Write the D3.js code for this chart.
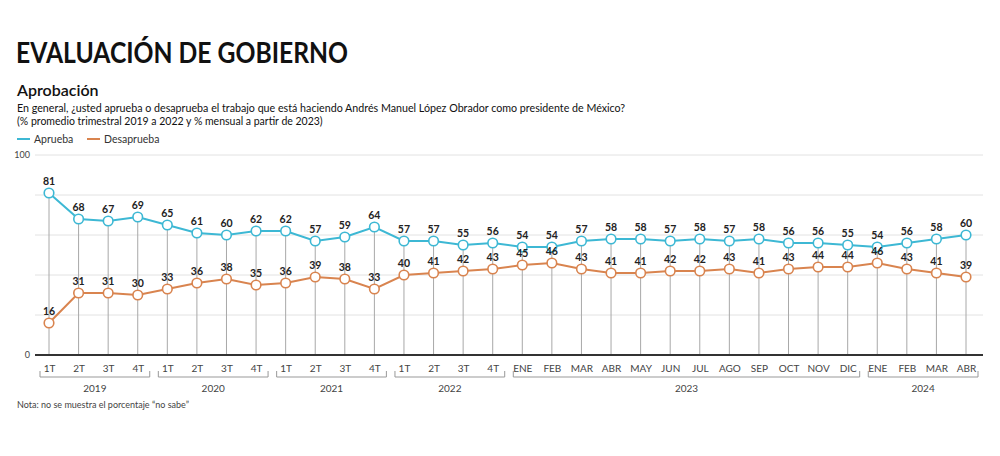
<!DOCTYPE html>
<html><head><meta charset="utf-8">
<script src="https://cdn.jsdelivr.net/npm/d3@7"></script>
<style>
body{margin:0;background:#fff;}
svg{display:block;font-family:Lato, "Open Sans", sans-serif;}
</style></head>
<body>
<svg id="c" width="1000" height="456"></svg>
<script>
const periods = ["1T","2T","3T","4T","1T","2T","3T","4T","1T","2T","3T","4T","1T","2T","3T","4T",
  "ENE","FEB","MAR","ABR","MAY","JUN","JUL","AGO","SEP","OCT","NOV","DIC","ENE","FEB","MAR","ABR"];
const yearOf = ["2019","2019","2019","2019","2020","2020","2020","2020","2021","2021","2021","2021","2022","2022","2022","2022",
  "2023","2023","2023","2023","2023","2023","2023","2023","2023","2023","2023","2023","2024","2024","2024","2024"];
const aprueba = [81,68,67,69,65,61,60,62,62,57,59,64,57,57,55,56,54,54,57,58,58,57,58,57,58,56,56,55,54,56,58,60];
const desaprueba = [16,31,31,30,33,36,38,35,36,39,38,33,40,41,42,43,45,46,43,41,41,42,42,43,41,43,44,44,46,43,41,39];
const yTicks = [0,100];
const gridTicks = [20,40,60,80,100];

const svg = d3.select("#c");
const blue = "#3db8d4", orange = "#d9844f";
const x = d3.scalePoint().domain(d3.range(periods.length)).range([49,966]);
const y = d3.scaleLinear().domain([0,100]).range([355,155]);

// Titles
svg.append("text").attr("x",16).attr("y",63).attr("font-size",28).attr("font-weight",700)
  .attr("fill","#111").attr("font-family","Lato, sans-serif")
  .attr("textLength",332).attr("lengthAdjust","spacingAndGlyphs")
  .text("EVALUACIÓN DE GOBIERNO");
svg.append("text").attr("x",17).attr("y",96).attr("font-size",16).attr("font-weight",600)
  .attr("fill","#111").text("Aprobación");
svg.append("text").attr("x",17).attr("y",112).attr("font-size",10.7).attr("fill","#111")
  .text("En general, ¿usted aprueba o desaprueba el trabajo que está haciendo Andrés Manuel López Obrador como presidente de México?");
svg.append("text").attr("x",17).attr("y",125).attr("font-size",10.5).attr("fill","#111")
  .text("(% promedio trimestral 2019 a 2022 y % mensual a partir de 2023)");

// Legend
const leg = [{n:"Aprueba",c:blue,x:17},{n:"Desaprueba",c:orange,x:87}];
leg.forEach(l=>{
  svg.append("line").attr("x1",l.x).attr("x2",l.x+13).attr("y1",139).attr("y2",139).attr("stroke",l.c).attr("stroke-width",2);
  svg.append("text").attr("x",l.x+17).attr("y",142.5).attr("font-size",10.5).attr("fill","#333").text(l.n);
});

// Grid
svg.append("g").selectAll("line").data(gridTicks).join("line")
  .attr("x1",35).attr("x2",983).attr("y1",d=>y(d)).attr("y2",d=>y(d))
  .attr("stroke","#e2e2e2").attr("stroke-width",1);

// Y labels
const ya = svg.append("g").attr("transform","translate(30,0)")
  .call(d3.axisLeft(y).tickValues(yTicks).tickSize(0).tickPadding(0));
ya.select(".domain").remove();
ya.selectAll("text").attr("font-size",9).attr("fill","#444").attr("font-family","Lato, sans-serif").attr("dy","0.32em");

// Drop lines
svg.append("g").selectAll("line").data(d3.range(periods.length)).join("line")
  .attr("x1",i=>x(i)).attr("x2",i=>x(i)).attr("y1",i=>y(Math.max(aprueba[i],desaprueba[i]))).attr("y2",y(0))
  .attr("stroke","#a8a8a8").attr("stroke-width",1);

// Baseline
svg.append("line").attr("x1",35).attr("x2",983).attr("y1",y(0)).attr("y2",y(0)).attr("stroke","#333").attr("stroke-width",2);

// X axis labels
const xa = svg.append("g").attr("transform",`translate(0,${y(0)})`)
  .call(d3.axisBottom(x).tickFormat(i=>periods[i]).tickSize(0).tickPadding(10));
xa.select(".domain").remove();
xa.selectAll("text").attr("font-size",10).attr("fill","#444").attr("font-family","Lato, sans-serif");

// Year brackets
const years = Array.from(new Set(yearOf));
years.forEach(yr=>{
  const idx = d3.range(periods.length).filter(i=>yearOf[i]===yr);
  const x0 = x(idx[0])-9, x1 = x(idx[idx.length-1])+12;
  svg.append("path").attr("d",`M${x0},371V377H${x1}V371`).attr("fill","none").attr("stroke","#999").attr("stroke-width",1);
  svg.append("text").attr("x",(x0+x1)/2).attr("y",392).attr("text-anchor","middle").attr("font-size",10)
    .attr("fill","#444").text(yr);
});

// Series
const series = [{v:aprueba,c:blue},{v:desaprueba,c:orange}];
series.forEach(s=>{
  const line = d3.line().x((d,i)=>x(i)).y(d=>y(d));
  svg.append("path").attr("d",line(s.v)).attr("fill","none").attr("stroke",s.c).attr("stroke-width",2);
  svg.append("g").selectAll("circle").data(s.v).join("circle")
    .attr("cx",(d,i)=>x(i)).attr("cy",d=>y(d)).attr("r",4.8)
    .attr("fill","#fff").attr("stroke",s.c).attr("stroke-width",1.6);
  svg.append("g").selectAll("text").data(s.v).join("text")
    .attr("x",(d,i)=>x(i)).attr("y",d=>y(d)-8).attr("text-anchor","middle")
    .attr("font-size",10.5).attr("font-weight",700).attr("fill","#222").text(d=>d);
});

// Note
svg.append("text").attr("x",17).attr("y",408).attr("font-size",9).attr("fill","#444")
  .text("Nota: no se muestra el porcentaje \u201cno sabe\u201d");
</script>
</body></html>
